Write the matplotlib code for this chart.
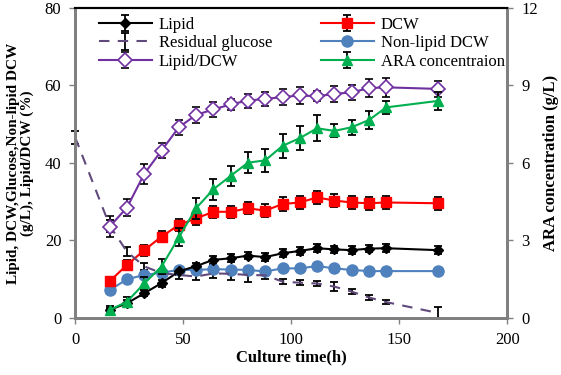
import numpy as np
import matplotlib.pyplot as plt

plt.rcParams['font.family'] = ['Liberation Serif', 'DejaVu Serif']

# Culture time (h)
time = [16, 24, 32, 40, 48, 56, 64, 72, 80, 88, 96, 104, 112, 120, 128, 136, 144, 168]
time_glc = [0] + time

# Left axis series (g/L and %)
lipid = [2.1, 3.8, 6.4, 9.0, 12.0, 13.4, 15.0, 15.4, 16.1, 15.7, 16.7, 17.3, 18.0, 17.7, 17.5, 17.9, 18.0, 17.5]
lipid_err = [0.6, 0.8, 0.8, 0.9, 0.9, 0.9, 1.0, 1.0, 1.0, 1.0, 1.0, 1.0, 1.0, 1.0, 1.0, 1.0, 1.0, 1.0]
dcw = [9.5, 13.7, 17.5, 21.0, 24.0, 25.7, 27.4, 27.4, 28.3, 27.7, 29.4, 29.8, 31.1, 30.3, 29.8, 29.6, 29.8, 29.6]
dcw_err = [1.2, 1.3, 1.4, 1.5, 1.5, 1.6, 1.6, 1.6, 1.6, 1.7, 1.7, 1.7, 1.7, 1.7, 1.7, 1.7, 1.7, 1.7]
glucose = [46.6, 23.8, 17.1, 13.3, 11.6, 11.1, 10.7, 11.5, 11.4, 11.1, 11.0, 9.4, 9.1, 8.9, 8.1, 6.8, 5.3, 4.1, 1.3]
glucose_err = [1.7, 1.5, 1.1, 1.0, 1.0, 1.0, 1.0, 1.3, 1.5, 1.8, 1.0, 0.6, 0.6, 0.6, 1.1, 0.6, 0.6, 0.6, 1.6]
nonlipid = [7.2, 10.0, 11.1, 11.7, 12.4, 12.4, 12.6, 12.5, 12.4, 12.0, 12.8, 12.8, 13.4, 12.8, 12.4, 12.1, 12.1, 12.1]
ratio = [23.6, 28.5, 37.2, 43.2, 49.2, 52.4, 53.8, 55.1, 56.1, 56.5, 57.0, 57.4, 57.2, 57.8, 58.2, 59.3, 59.5, 59.1]
ratio_err = [2.8, 2.3, 2.6, 1.9, 2.0, 2.0, 2.0, 1.5, 1.8, 1.9, 2.0, 2.3, 1.3, 2.1, 2.0, 2.3, 2.4, 2.0]

# Right axis series (g/L)
ara = [0.31, 0.63, 1.34, 1.99, 3.12, 4.25, 4.98, 5.50, 6.01, 6.10, 6.66, 6.96, 7.34, 7.24, 7.38, 7.66, 8.15, 8.40]
ara_err = [0.15, 0.2, 0.25, 0.3, 0.35, 0.4, 0.4, 0.4, 0.4, 0.45, 0.45, 0.45, 0.5, 0.25, 0.3, 0.35, 0.25, 0.35]

ERR = dict(ecolor='black', elinewidth=1.3, capsize=3, capthick=1.3)

fig = plt.figure(figsize=(5.61, 3.75), dpi=100)
ax = fig.add_axes([0.134, 0.152, 0.770, 0.827])
ax2 = ax.twinx()

h_lipid = ax.errorbar(time, lipid, yerr=lipid_err, color='black', marker='D',
                      markersize=5, lw=1.5, label='Lipid', **ERR)
h_dcw = ax.errorbar(time, dcw, yerr=dcw_err, color='#FF0000', marker='s',
                    markersize=7, lw=1.5, label='DCW', **ERR)
h_glc = ax.errorbar(time_glc, glucose, yerr=glucose_err, color='#604A7B', ls=(0, (5, 4)),
                    lw=1.5, label='Residual glucose', **ERR)
for art in h_glc.get_children():
    art.set_clip_on(False)
h_non, = ax.plot(time, nonlipid, color='#4F81BD', marker='o', markersize=8,
                 lw=1.5, label='Non-lipid DCW')
h_ratio = ax.errorbar(time, ratio, yerr=ratio_err, color='#7030A0', marker='D',
                      markersize=7, mfc='white', mec='#7030A0', mew=1.2, lw=1.5,
                      label='Lipid/DCW', **ERR)
h_ara = ax2.errorbar(time, ara, yerr=ara_err, color='#00B050', marker='^',
                     markersize=7, lw=1.5, label='ARA concentraion', **ERR)

ax.set_xlim(0, 200)
ax.set_ylim(0, 80)
ax2.set_ylim(0, 12)
ax.set_xticks([0, 50, 100, 150, 200])
ax.set_yticks([0, 20, 40, 60, 80])
ax2.set_yticks([0, 3, 6, 9, 12])

for a in (ax, ax2):
    for s in ('left', 'right', 'bottom'):
        a.spines[s].set_color('#808080')
        a.spines[s].set_linewidth(2)
    a.spines['top'].set_color('black')
    a.spines['top'].set_linewidth(1.5)
    a.tick_params(labelsize=12, length=4, width=1, color='#808080', pad=6)

ax.set_xlabel('Culture time(h)', fontsize=12, fontweight='bold', labelpad=1)
ax.set_ylabel('Lipid, DCW,Glucose,Non-lipid DCW\n(g/L), Lipid/DCW (%)',
              fontsize=11, fontweight='bold', linespacing=1.0, labelpad=8)
ax2.set_ylabel('ARA concentration (g/L)', fontsize=12, fontweight='bold', labelpad=4)

handles = [h_lipid, h_glc, h_ratio, h_dcw, h_non, h_ara]
labels = [h.get_label() for h in handles]
ax2.legend(handles, labels, ncol=2, frameon=False, fontsize=12,
           loc='upper left', bbox_to_anchor=(0.02, 1.02), handlelength=3.2,
           columnspacing=2.9, labelspacing=0.15, handletextpad=0.4)

fig.savefig('out.png', dpi=100)
